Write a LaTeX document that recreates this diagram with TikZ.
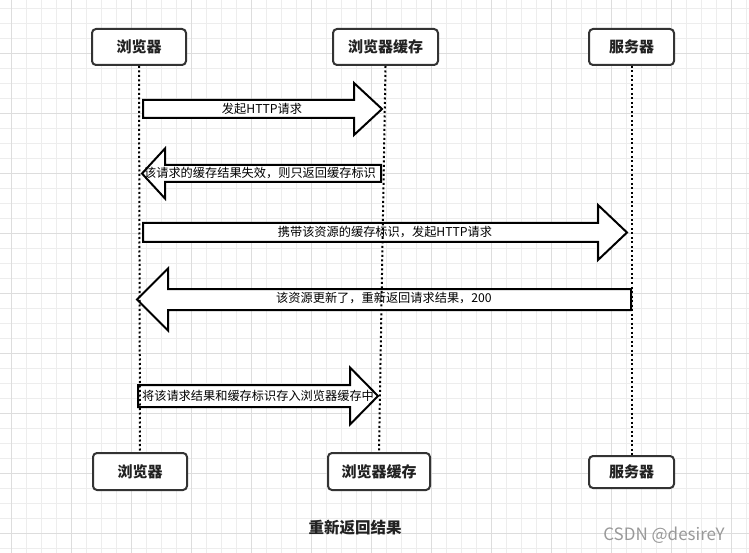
\documentclass[tikz,border=0pt]{standalone}
\usepackage{fontspec}
\setmainfont{Noto Sans CJK SC}
\definecolor{gminor}{HTML}{EDEDED}
\definecolor{gmajor}{HTML}{DDDDDD}
\definecolor{boxline}{HTML}{333333}
\definecolor{txt}{HTML}{222222}
\newcommand\bkR[6]{% x1, tip, yc, bodyhalf, headhalf, headlen
  \draw[blk] (#1,#3-#4) -- (#2-#6,#3-#4) -- (#2-#6,#3-#5) -- (#2,#3) -- (#2-#6,#3+#5) -- (#2-#6,#3+#4) -- (#1,#3+#4) -- cycle;}
\newcommand\bkL[6]{% tip, x2, yc, bodyhalf, headhalf, headlen
  \draw[blk] (#2,#3-#4) -- (#1+#6,#3-#4) -- (#1+#6,#3-#5) -- (#1,#3) -- (#1+#6,#3+#5) -- (#1+#6,#3+#4) -- (#2,#3+#4) -- cycle;}
\begin{document}
\begin{tikzpicture}[x=1pt,y=-1pt,
  actor/.style={draw=boxline,line width=2pt,rounded corners=4pt,fill=white,text=txt,
    font=\fontsize{15}{18}\selectfont\bfseries,inner sep=0pt,anchor=north west},
  blk/.style={draw=black,line width=2pt,fill=white,line join=miter},
  lbl/.style={font=\fontsize{12.2}{14}\selectfont,text=black,inner sep=0pt},
  life/.style={draw=black,line width=2pt,dash pattern=on 2pt off 2.5pt}]
\useasboundingbox (0,0) rectangle (749,553);
\fill[white] (0,0) rectangle (749,553);
% grid
\foreach \x in {11.7,26.7,...,749} \draw[gminor,line width=0.8pt] (\x,0) -- (\x,553);
\foreach \y in {8.3,23.3,...,553} \draw[gminor,line width=0.8pt] (0,\y) -- (749,\y);
\foreach \x in {11.7,71.7,...,749} \draw[gmajor,line width=0.9pt] (\x,0) -- (\x,553);
\foreach \y in {53.3,113.3,...,553} \draw[gmajor,line width=0.9pt] (0,\y) -- (749,\y);
% actor boxes
\node[actor,minimum width=94pt,minimum height=36pt] (b1) at (91,28) {浏览器};
\node[actor,minimum width=105pt,minimum height=36pt] (c1) at (332,28) {浏览器缓存};
\node[actor,minimum width=85pt,minimum height=36pt] (s1) at (588,28) {服务器};
\node[actor,minimum width=94pt,minimum height=37pt] (b2) at (92,452) {浏览器};
\node[actor,minimum width=102pt,minimum height=37pt] (c2) at (327,452) {浏览器缓存};
\node[actor,minimum width=85pt,minimum height=32pt] (s2) at (588,455) {服务器};
% messages
\bkR{143}{382}{109}{9}{26}{28}
\node[lbl] (m1) at (262,109) {发起HTTP请求};
\bkL{142}{381}{173.5}{8.5}{25}{23}
\node[lbl] (m2) at (260,173) {该请求的缓存结果失效，则只返回缓存标识};
\bkR{143}{627}{232.5}{9.5}{27.5}{29}
\node[lbl] (m3) at (385,232) {携带该资源的缓存标识，发起HTTP请求};
\bkL{137}{631}{299.5}{10.5}{31}{31}
\node[lbl] (m4) at (384,298) {该资源更新了，重新返回请求结果，200};
\bkR{138}{378}{396}{11}{28.5}{28}
\node[lbl] (m5) at (258,396) {将该请求结果和缓存标识存入浏览器缓存中};
% lifelines
\draw[life] (b1.south) -- (b2.north);
\draw[life] (c1.south) -- (c2.north);
\draw[life] (s1.south) -- (s2.north);
% caption
\node[font=\fontsize{15.5}{18}\selectfont\bfseries,text=txt] (cap) at (355,528) {重新返回结果};
\node[font=\fontsize{17}{20}\selectfont,text=black!40] (wm) at (664,535) {CSDN @desireY};
\end{tikzpicture}
\end{document}
